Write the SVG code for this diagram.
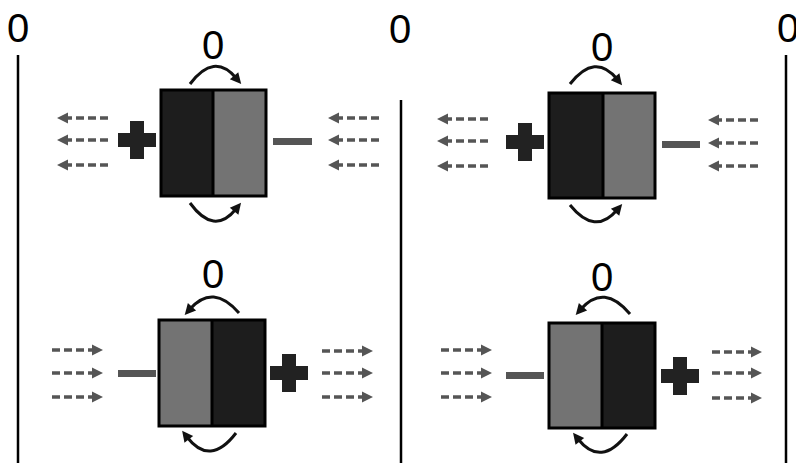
<svg xmlns="http://www.w3.org/2000/svg" width="796" height="463" viewBox="0 0 796 463">
<style>
.lbl{font-family:"Liberation Sans",Arial,sans-serif;font-size:40px;fill:#000;text-anchor:middle}
.sep{stroke:#000;stroke-width:2.5;fill:none}
.box{stroke:#000;stroke-width:3}
.dk{fill:#1d1d1d}
.gr{fill:#737373}
.div{stroke:#000;stroke-width:3}
.plus{fill:#222}
.minus{fill:#555}
.flow{stroke:#555;stroke-width:3.5;stroke-dasharray:8 4;fill:none;marker-end:url(#fh)}
.rot{stroke:#111;stroke-width:3;fill:none;marker-end:url(#rh)}
</style>
<defs>
<marker id="fh" markerUnits="userSpaceOnUse" markerWidth="12" markerHeight="12" refX="0" refY="5.5" orient="auto" overflow="visible">
<path d="M0,0 L11,5.5 L0,11 z" fill="#555"/>
</marker>
<marker id="rh" markerUnits="userSpaceOnUse" markerWidth="12" markerHeight="12" refX="3" refY="5.5" orient="auto" overflow="visible">
<path d="M0,0 L11,5.5 L0,11 z" fill="#111"/>
</marker>
</defs>
<g id="separators">
<line class="sep" x1="18" y1="55" x2="18" y2="463"/>
<line class="sep" x1="401" y1="100" x2="401" y2="463"/>
<line class="sep" x1="786" y1="55" x2="786" y2="463"/>
<text class="lbl" x="18" y="42">0</text>
<text class="lbl" x="400" y="43">0</text>
<text class="lbl" x="788" y="42">0</text>
</g>
<g id="node-tl">
<rect class="dk" x="161" y="90" width="52" height="106"/>
<rect class="gr" x="213" y="90" width="53" height="106"/>
<rect class="box" x="161" y="90" width="105" height="106" fill="none"/>
<line class="div" x1="213" y1="90" x2="213" y2="196"/>
<text class="lbl" x="213" y="59">0</text>
<rect class="plus" x="118" y="133" width="38" height="14"/>
<rect class="plus" x="130" y="121" width="14" height="38"/>
<rect class="minus" x="273" y="138" width="39" height="7"/>
</g>
<g id="node-tr">
<rect class="dk" x="549" y="93" width="54" height="105"/>
<rect class="gr" x="603" y="93" width="52" height="105"/>
<rect class="box" x="549" y="93" width="106" height="105" fill="none"/>
<line class="div" x1="603" y1="93" x2="603" y2="198"/>
<text class="lbl" x="602" y="61">0</text>
<rect class="plus" x="506" y="135" width="38" height="14"/>
<rect class="plus" x="518" y="123" width="14" height="38"/>
<rect class="minus" x="662" y="141" width="38" height="7"/>
</g>
<g id="node-bl">
<rect class="gr" x="159" y="320" width="53" height="106"/>
<rect class="dk" x="212" y="320" width="53" height="106"/>
<rect class="box" x="159" y="320" width="106" height="106" fill="none"/>
<line class="div" x1="212" y1="320" x2="212" y2="426"/>
<text class="lbl" x="213" y="288">0</text>
<rect class="minus" x="118" y="370" width="38" height="7"/>
<rect class="plus" x="270" y="366" width="38" height="14"/>
<rect class="plus" x="282" y="354" width="14" height="38"/>
</g>
<g id="node-br">
<rect class="gr" x="549" y="323" width="53" height="105"/>
<rect class="dk" x="602" y="323" width="53" height="105"/>
<rect class="box" x="549" y="323" width="106" height="105" fill="none"/>
<line class="div" x1="602" y1="323" x2="602" y2="428"/>
<text class="lbl" x="602" y="291">0</text>
<rect class="minus" x="506" y="372" width="38" height="7"/>
<rect class="plus" x="661" y="369" width="38" height="14"/>
<rect class="plus" x="673" y="357" width="14" height="38"/>
</g>
<g id="connectors">
<path class="rot" d="M190,84 Q214,52 236,78"/>
<path class="rot" d="M190,203 Q214,236 236,209"/>
<path class="rot" d="M570,84 Q595,52 617,79"/>
<path class="rot" d="M570,205 Q595,236 617,210"/>
<path class="rot" d="M239,313 Q213,283 190,309"/>
<path class="rot" d="M236,433 Q210,467 187,437"/>
<path class="rot" d="M630,314 Q604,283 581,309"/>
<path class="rot" d="M627,434 Q601,468 578,439"/>
<path class="flow" d="M108,118 H68"/>
<path class="flow" d="M108,140 H68"/>
<path class="flow" d="M108,165 H68"/>
<path class="flow" d="M379,118 H339"/>
<path class="flow" d="M379,140 H339"/>
<path class="flow" d="M379,165 H339"/>
<path class="flow" d="M488,119 H448"/>
<path class="flow" d="M488,141 H448"/>
<path class="flow" d="M488,166 H448"/>
<path class="flow" d="M758,120 H719"/>
<path class="flow" d="M758,143 H719"/>
<path class="flow" d="M758,166 H719"/>
<path class="flow" d="M52,350 H92"/>
<path class="flow" d="M52,373 H92"/>
<path class="flow" d="M52,397 H92"/>
<path class="flow" d="M322,351 H362"/>
<path class="flow" d="M322,373 H362"/>
<path class="flow" d="M322,397 H362"/>
<path class="flow" d="M441,350 H481"/>
<path class="flow" d="M441,373 H481"/>
<path class="flow" d="M441,397 H481"/>
<path class="flow" d="M712,352 H751"/>
<path class="flow" d="M712,373 H751"/>
<path class="flow" d="M712,398 H751"/>
</g>
</svg>
